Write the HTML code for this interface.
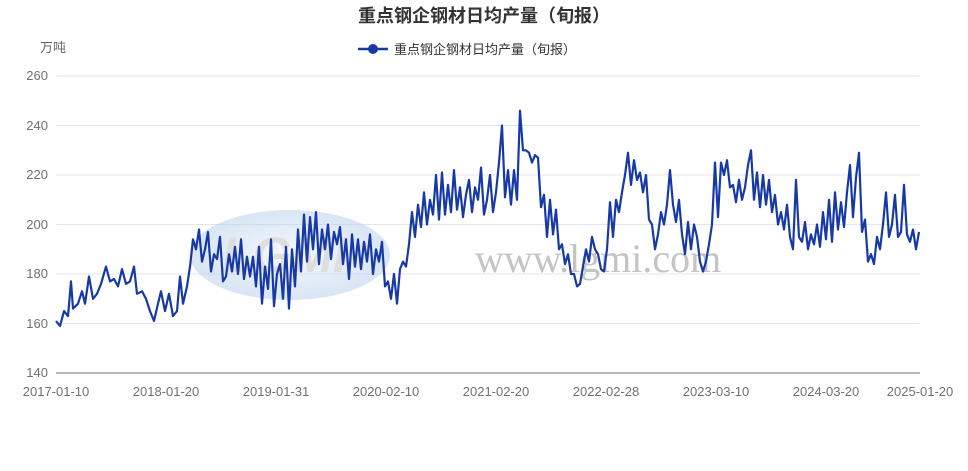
<!DOCTYPE html>
<html><head><meta charset="utf-8">
<style>
html,body{margin:0;padding:0;background:#fff;width:968px;height:471px;overflow:hidden}
svg text{font-family:"Liberation Sans","Noto Sans CJK SC",sans-serif}
</style></head><body>
<svg id="s" width="968" height="471" viewBox="0 0 968 471">
<defs><radialGradient id="g" cx="0.5" cy="0.5" r="0.6"><stop offset="0" stop-color="#e8f0fa"/><stop offset="1" stop-color="#9fc0e6"/></radialGradient></defs>
<text x="484" y="22" text-anchor="middle" font-size="18" font-weight="bold" fill="#333">重点钢企钢材日均产量（旬报）</text>
<line x1="358" y1="49" x2="388" y2="49" stroke="#1739a6" stroke-width="2.5"/>
<circle cx="373" cy="49" r="5" fill="#1739a6"/>
<text x="394" y="54" font-size="13" fill="#333">重点钢企钢材日均产量（旬报）</text>
<text x="40" y="52" font-size="13" fill="#666">万吨</text>
<g stroke="#e0e6f1" stroke-width="1">
<line x1="56" x2="920" y1="76" y2="76"/><line x1="56" x2="920" y1="125.5" y2="125.5"/>
<line x1="56" x2="920" y1="175" y2="175"/><line x1="56" x2="920" y1="224.5" y2="224.5"/>
<line x1="56" x2="920" y1="274" y2="274"/><line x1="56" x2="920" y1="323.5" y2="323.5"/>
</g>
<line x1="56" x2="920" y1="373" y2="373" stroke="#6e7079"/>
<g font-size="13" fill="#6e7079" text-anchor="end">
<text x="48" y="80">260</text><text x="48" y="130">240</text><text x="48" y="179">220</text>
<text x="48" y="229">200</text><text x="48" y="278">180</text><text x="48" y="328">160</text><text x="48" y="377">140</text>
</g>
<g font-size="13" fill="#6e7079" text-anchor="middle">
<text x="56" y="396">2017-01-10</text><text x="166" y="396">2018-01-20</text><text x="276" y="396">2019-01-31</text>
<text x="386" y="396">2020-02-10</text><text x="496" y="396">2021-02-20</text><text x="606" y="396">2022-02-28</text>
<text x="716" y="396">2023-03-10</text><text x="826" y="396">2024-03-20</text><text x="920" y="396">2025-01-20</text>
</g>
<g opacity="0.45">
<ellipse cx="290" cy="255" rx="100" ry="45" fill="url(#g)"/>
<text x="222" y="272" font-size="50" font-weight="bold" fill="#b8b8b8" font-style="italic">LGMI</text>
</g>
<text x="475" y="272" font-size="40" fill="#c4c4c4" style="font-family:'Liberation Serif',serif">www.lgmi.com</text>
<polyline id="p" fill="none" stroke="#1739a6" stroke-width="2.2" stroke-linejoin="round"/>
</svg>
<script>
var d=[56,161,60,159,64,165,68,163,71,177,73,166,78,168,82,173,85,168,89,179,93,170,97,172,101,176,106,183,110,177,114,178,118,175,122,182,126,176,130,177,134,183,137,172,142,173,146,170,150,165,154,161,158,168,161,173,165,165,169,172,173,163,177,165,180,179,183,168,187,175,190,183,193,194,196,190,199,198,202,185,205,190,208,197,211,181,214,188,217,186,220,195,223,177,226,179,229,188,232,181,235,191,238,180,241,194,244,178,247,187,250,179,253,187,256,175,259,191,262,168,265,183,268,174,271,194,274,167,277,180,280,184,283,170,286,191,289,166,292,190,295,175,298,198,301,181,304,204,307,185,310,203,313,190,316,205,319,184,322,198,325,190,328,200,331,186,334,197,337,192,340,199,343,184,346,194,349,178,352,196,355,183,358,194,361,182,364,193,367,185,370,196,373,180,376,190,379,185,382,193,385,175,388,177,391,170,394,180,397,168,400,182,403,185,406,183,409,192,412,205,415,195,418,208,421,199,424,213,427,200,430,210,433,204,436,220,439,202,442,221,445,204,448,216,451,205,454,222,457,206,460,215,463,203,466,212,469,218,472,205,475,215,478,210,481,223,484,204,487,210,490,220,493,205,496,213,499,225,502,240,505,211,508,222,511,208,514,222,517,210,520,246,523,230,526,230,529,229,532,225,535,228,538,227,541,207,544,212,547,195,550,210,553,196,556,206,559,190,562,192,565,184,568,188,571,180,574,180,577,175,580,176,583,183,586,190,589,185,592,195,595,190,598,188,601,182,604,181,607,190,610,209,613,195,616,210,619,205,622,213,625,220,628,229,631,216,634,226,637,218,640,221,643,213,646,220,649,202,652,200,655,190,658,196,661,205,664,200,667,208,670,222,673,208,676,201,679,210,682,196,685,188,688,201,691,190,694,200,697,195,700,185,703,181,706,185,709,192,712,200,715,225,718,203,721,225,724,220,727,226,730,215,733,216,736,209,739,218,742,210,745,215,748,224,751,230,754,210,757,221,760,207,763,220,766,208,769,218,772,205,775,212,778,200,781,205,784,198,787,208,790,195,793,190,796,218,799,195,802,193,805,201,808,190,811,196,814,192,817,200,820,191,823,205,826,194,829,210,832,193,835,213,838,198,841,209,844,199,847,213,850,224,853,203,856,219,859,229,862,197,865,202,868,185,871,188,874,184,877,195,880,190,883,200,886,213,889,195,892,200,895,212,898,195,901,197,904,216,907,196,910,193,913,198,916,190,919,197];
var pts=[];for(var i=0;i<d.length;i+=2){pts.push(d[i]+","+(76+(260-d[i+1])*2.475).toFixed(1));}
document.getElementById("p").setAttribute("points",pts.join(" "));
</script>
</body></html>
